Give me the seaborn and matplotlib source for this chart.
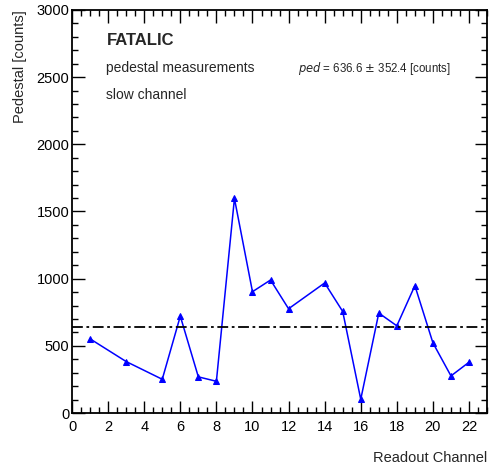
import numpy as np
import pandas as pd
import matplotlib
matplotlib.use("Agg")
import matplotlib.pyplot as plt
import seaborn as sns
from matplotlib.ticker import MultipleLocator

channels = [1, 3, 5, 6, 7, 8, 9, 10, 11, 12, 14, 15, 16, 17, 18, 19, 20, 21, 22]
pedestal = [552, 383, 251, 721, 269, 236, 1597, 903, 990, 776, 968, 756, 102, 744, 649, 948, 522, 276, 378]
ped_mean = 636.6
ped_std = 352.4

sns.set_theme(style="ticks")
plt.rcParams['font.family'] = ['Liberation Sans', 'DejaVu Sans']

df = pd.DataFrame({"channel": channels, "pedestal": pedestal})

fig = plt.figure(figsize=(4.9, 4.69), dpi=100)
ax = fig.add_axes([0.147, 0.1194, 0.847, 0.8593])

sns.lineplot(data=df, x="channel", y="pedestal", ax=ax, color="#0000ff",
             marker="^", markersize=4, markeredgecolor="#0000ff", linewidth=1.1)
ax.axhline(ped_mean, color="black", linestyle=(0, (6, 2, 1.5, 2)), linewidth=1.3)

ax.set_xlim(0, 23)
ax.set_ylim(0, 3000)
ax.xaxis.set_major_locator(MultipleLocator(2))
ax.xaxis.set_minor_locator(MultipleLocator(0.5))
ax.yaxis.set_major_locator(MultipleLocator(500))
ax.yaxis.set_minor_locator(MultipleLocator(100))
ax.tick_params(which="both", direction="in", top=True, right=True, width=1, colors="black", labelsize=10.5)
ax.tick_params(which="major", length=9)
ax.tick_params(which="minor", length=4.5)
ax.tick_params(axis="x", which="major", pad=5)
ax.tick_params(axis="y", which="major", pad=2)
for s in ax.spines.values():
    s.set_linewidth(1.3)
    s.set_color("black")

ax.set_xlabel("Readout Channel", fontsize=10.5, ha="right", x=1.0, labelpad=12)
ax.set_ylabel("Pedestal [counts]", fontsize=10.5, ha="right", y=1.0, labelpad=7)

ax.text(0.083, 0.925, "FATALIC", transform=ax.transAxes, fontsize=12, fontweight="bold", va="center")
ax.text(0.083, 0.855, "pedestal measurements", transform=ax.transAxes, fontsize=10, va="center")
ax.text(0.083, 0.79, "slow channel", transform=ax.transAxes, fontsize=10, va="center")
ax.text(0.545, 0.855, r"$\mathit{ped}$ = %.1f $\pm$ %.1f [counts]" % (ped_mean, ped_std),
        transform=ax.transAxes, fontsize=8.3, va="center")

fig.savefig("out.png", dpi=100)
